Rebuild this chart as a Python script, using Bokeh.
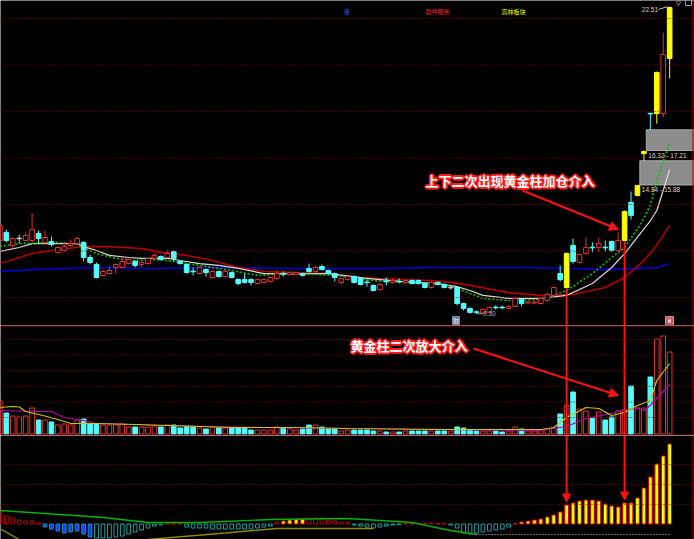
import numpy as np
from bokeh.plotting import figure
from bokeh.layouts import column
from bokeh.models import Range1d, Span, Label, Arrow, NormalHead, ColumnDataSource
from bokeh.embed import file_html
from bokeh.resources import INLINE

# ---------------- daily bars ----------------
opens = [12.45, 12.80, 12.24, 12.54, 12.45, 12.45, 12.75, 12.37, 12.41, 11.94,
         12.02, 12.24, 12.32, 12.37, 11.72, 11.42, 10.95, 11.03, 11.29, 11.29,
         11.46, 11.55, 11.42, 11.46, 11.68, 11.76, 11.72, 11.98, 11.55, 11.42,
         11.13, 11.03, 11.20, 10.86, 11.12, 10.90, 11.07, 10.77, 10.77, 10.77,
         10.60, 10.65, 10.69, 10.82, 11.03, 10.99, 10.99, 11.03, 11.25, 11.12,
         11.33, 11.16, 11.03, 10.65, 10.77, 10.90, 10.82, 10.66, 10.52, 10.34,
         10.70, 10.65, 10.70, 10.65, 10.73, 10.73, 10.60, 10.43, 10.65, 10.56,
         10.43, 10.43, 9.74, 9.53, 9.38, 9.33, 9.36, 9.58, 9.58, 9.53,
         9.61, 9.91, 9.76, 9.76, 9.74, 9.87, 10.09, 11.03, 10.43, 12.24,
         11.51, 11.89, 12.16, 12.15, 12.16, 12.41, 12.02, 12.45, 14.09, 14.39,
         16.19, 17.92, 17.91, 17.91, 20.28]
highs = [13.15, 12.92, 12.58, 12.71, 12.80, 13.61, 12.88, 12.88, 12.62, 12.19,
         12.37, 12.50, 12.62, 12.41, 11.85, 11.50, 11.20, 11.33, 11.46, 11.72,
         11.68, 11.59, 11.55, 11.72, 11.89, 11.81, 12.02, 12.02, 11.59, 11.46,
         11.29, 11.33, 11.25, 11.16, 11.16, 11.16, 11.12, 10.82, 11.03, 10.82,
         10.82, 10.82, 10.90, 11.16, 11.12, 11.12, 11.12, 11.07, 11.46, 11.38,
         11.42, 11.20, 11.07, 10.86, 10.95, 10.95, 10.86, 10.77, 10.56, 10.60,
         10.86, 10.82, 10.82, 10.77, 10.77, 10.77, 10.65, 10.69, 10.69, 10.60,
         10.52, 10.47, 9.78, 9.57, 9.44, 9.53, 9.61, 9.66, 9.64, 9.66,
         10.00, 9.96, 9.85, 9.85, 10.00, 10.21, 10.47, 11.38, 11.94, 12.54,
         11.89, 12.58, 12.37, 12.58, 12.45, 12.45, 12.80, 13.74, 14.56, 14.84,
         16.32, 17.93, 19.72, 21.39, 22.51]
lows = [12.40, 12.37, 12.15, 12.32, 12.41, 12.37, 12.32, 12.32, 12.19, 11.89,
        11.98, 12.19, 12.28, 11.55, 11.42, 10.82, 10.90, 10.99, 11.03, 11.25,
        11.42, 11.29, 11.29, 11.42, 11.63, 11.59, 11.68, 11.55, 11.42, 11.03,
        10.95, 10.99, 10.90, 10.82, 10.86, 10.86, 10.82, 10.52, 10.60, 10.52,
        10.56, 10.60, 10.65, 10.77, 10.90, 10.95, 10.95, 10.90, 11.07, 11.07,
        11.16, 10.99, 10.69, 10.56, 10.73, 10.60, 10.52, 10.47, 10.26, 10.30,
        10.52, 10.60, 10.60, 10.60, 10.56, 10.56, 10.39, 10.39, 10.52, 10.39,
        10.34, 9.66, 9.44, 9.31, 9.30, 9.31, 9.33, 9.48, 9.50, 9.50,
        9.57, 9.61, 9.72, 9.72, 9.70, 9.83, 10.05, 10.69, 10.39, 11.46,
        11.46, 11.85, 11.94, 11.94, 11.98, 11.98, 11.98, 12.41, 13.35, 14.35,
        15.88, 17.21, 17.48, 17.74, 19.42]
closes = [13.10, 12.45, 12.54, 12.54, 12.67, 12.92, 12.54, 12.58, 12.28, 12.15,
          12.19, 12.32, 12.54, 11.72, 11.51, 10.86, 11.12, 11.16, 11.42, 11.55,
          11.63, 11.38, 11.51, 11.68, 11.81, 11.63, 11.89, 11.68, 11.46, 11.07,
          11.11, 11.29, 11.07, 11.12, 10.90, 11.12, 10.86, 10.60, 10.65, 10.65,
          10.77, 10.77, 10.86, 11.03, 11.01, 11.07, 11.07, 10.95, 11.12, 11.29,
          11.20, 11.03, 10.86, 10.82, 10.90, 10.65, 10.56, 10.64, 10.30, 10.56,
          10.68, 10.73, 10.68, 10.73, 10.60, 10.60, 10.43, 10.65, 10.56, 10.43,
          10.43, 9.74, 9.53, 9.36, 9.36, 9.48, 9.57, 9.56, 9.56, 9.61,
          9.96, 9.74, 9.80, 9.80, 9.96, 10.13, 10.43, 10.77, 11.89, 11.55,
          11.85, 12.15, 12.14, 12.32, 12.14, 12.02, 12.45, 13.70, 13.53, 14.82,
          16.28, 17.90, 19.68, 20.45, 22.47]
golden_bars = [88, 97, 99, 100, 102, 104]

volumes = [33, 21, 18, 17, 18, 26, 14, 14, 12, 9,
           10, 9, 14, 15, 10, 10, 9, 9, 9, 10,
           7, 7, 7, 7, 8, 7, 9, 9, 6, 8,
           7, 6, 5, 7, 6, 6, 6, 6, 6, 4,
           4, 4, 4, 7, 6, 5, 4, 5, 9, 9,
           7, 5, 5, 3, 4, 4, 4, 4, 3, 3,
           2, 2, 2, 3, 3, 3, 3, 3, 3, 3,
           3, 7, 6, 4, 3, 3, 3, 3, 2, 3,
           7, 5, 3, 3, 4, 5, 6, 20, 29, 42,
           25, 23, 16, 22, 14, 17, 23, 24, 48, 26,
           26, 57, 95, 98, 82]

# ---------------- moving-average traces (bar index, value) ----------------
ma_white_idx = [0, 3, 5, 8, 12, 13, 15, 17, 20, 22, 26, 28, 31, 34, 37, 41, 46, 51, 57, 62,
                68, 71, 73, 75, 79, 84, 88, 92, 95, 97, 99, 101, 102, 103, 104]
ma_white_val = [11.98, 12.15, 12.32, 12.32, 12.32, 12.19, 12.02, 11.81, 11.72, 11.68,
                11.68, 11.59, 11.46, 11.38, 11.25, 11.03, 11.03, 11.03, 10.82, 10.69,
                10.60, 10.47, 10.30, 10.09, 9.96, 9.96, 10.09, 10.60, 11.29, 11.89,
                12.60, 13.30, 13.74, 14.60, 15.51]
ma_green_idx = [0, 3, 9, 12, 15, 18, 21, 25, 28, 31, 36, 40, 46, 52, 58, 63, 69, 71, 75, 79,
                84, 88, 92, 95, 97, 99, 100, 101, 102, 103, 104]
ma_green_val = [12.19, 12.32, 12.37, 12.28, 11.89, 11.68, 11.59, 11.63, 11.51, 11.38,
                11.16, 10.95, 11.03, 10.95, 10.73, 10.65, 10.56, 10.39, 9.96, 9.87,
                9.91, 10.30, 11.03, 11.72, 12.15, 12.95, 13.40, 14.00, 15.00, 15.85, 16.67]
ma_red_idx = [0, 5, 8, 13, 17, 22, 25, 29, 33, 37, 41, 46, 51, 56, 59, 67, 70, 73, 79, 84,
              89, 94, 97, 100, 102, 104]
ma_red_val = [11.46, 11.89, 12.02, 12.19, 12.19, 12.11, 11.94, 11.81, 11.59, 11.29,
              11.12, 11.07, 11.03, 10.86, 10.82, 10.73, 10.65, 10.52, 10.21, 10.09,
              10.13, 10.43, 10.86, 11.59, 12.25, 13.10]
ma_blue_idx = [0, 5, 10, 15, 23, 34, 46, 59, 67, 81, 89, 94, 99, 102, 104]
ma_blue_val = [11.12, 11.20, 11.25, 11.29, 11.25, 11.29, 11.25, 11.25, 11.29, 11.29,
               11.25, 11.20, 11.25, 11.29, 11.46]

vma_yellow_idx = [0, 2, 3, 4, 7, 9, 11, 15, 21, 26, 36, 46, 54, 68, 84, 86, 88, 91, 93, 95,
                  97, 99, 101, 102, 104]
vma_yellow_val = [26.5, 27.5, 27, 22.5, 18, 14.5, 10.5, 10.5, 9.5, 8.5, 6.5, 6.5, 5.5, 4.5,
                  4.5, 6.5, 16.5, 26.5, 25.5, 18.5, 21.5, 28.5, 33.5, 53.5, 70.5]
vma_purple_idx = [0, 5, 8, 10, 13, 15, 26, 41, 54, 84, 88, 91, 95, 97, 99, 100, 101, 104]
vma_purple_val = [23.5, 22.5, 22.5, 16.5, 13.5, 10.5, 8.5, 6.5, 5.5, 3.5, 7.5, 15.5, 20.5,
                  24.5, 25.5, 23.5, 28.5, 49.5]

# ---------------- momentum histogram ----------------
hist = [13, 8, 6, 4, 3, 3, 1, -3, -5, -7,
        -9, -8, -7, -10, -13, -14, -14, -14, -13, -12,
        -10, -8, -6, -4, -2, -1, 1, 1, 0.5, -3,
        -4, -4, -4, -5, -5, -5, -5, -5, -5, -5,
        -4, -3, -2, 2, 3, 4, 5, 5, 6, 6,
        5, 4, 3, 2, 2, -1, -2, -3, -4, -3,
        -2, -1, -0.5, 0.5, 0.5, 0.5, 0.5, 0.5, 0.5, 0.5,
        -1, -4, -9, -10, -9, -8, -7, -6, -5, -3,
        0.5, 2, 3, 4, 5, 7, 9, 12, 19, 21,
        23, 24, 24, 23, 20, 18, 17, 21, 21, 26,
        36, 47, 60, 68, 80]
hist_strong_runs = [(7, 14), (44, 47), (81, 104)]

dif_idx = [0, 7, 16, 23, 31, 42, 54, 64, 70, 74]
dif_val = [13.5, 10.5, 6.5, 1.5, 1.5, 4.5, 5.5, 1.5, -6.5, -10.5]
dea_idx = [0, 3, np.nan, 23, 35, 43, 58]
dea_val = [-4.5, -15.5, np.nan, -15.5, -9, -4.5, -4.5]
floor_idx = [74, 104]
floor_val = [-10.5, -10.5]

header_labels = ["港", "软件服务", "高林板块"]
note_price = "上下二次出现黄金柱加仓介入"
note_volume = "黄金柱二次放大介入"
price_grid = [10, 12, 14, 16, 18, 20, 22]

# ---------------- geometry ----------------
W = 694
H_MAIN, H_VOL, H_IND = 325, 110, 104
BAR_PX = 6.44
X_START = 0.093
X_END = X_START + W / BAR_PX
PRICE_TOP = 22.774
PX_PER_PRICE = 23.25
PRICE_BOTTOM = PRICE_TOP - H_MAIN / PX_PER_PRICE
VOL_TOP, VOL_BOTTOM = 108.5, -1.5
IND_TOP, IND_BOTTOM = 88.5, -15.5

RED = "#e63232"
CYAN = "#54fcfc"
YELLOW = "#ffff00"
BORDER = "#b00000"
GRID = "#8b0000"
ARROW_RED = "#ff1010"
CJK = "Noto Sans CJK SC"


def px_x(px):
    return X_START + px / BAR_PX


def main_y(py):
    return PRICE_TOP - py / PX_PER_PRICE


def vol_y(py):
    return VOL_TOP - (py - H_MAIN)


def ind_y(py):
    return IND_TOP - (py - H_MAIN - H_VOL)


xr = Range1d(X_START, X_END)


def pane(h, y0, y1):
    p = figure(width=W, height=h, x_range=xr, y_range=Range1d(y0, y1),
               output_backend="svg", toolbar_location=None,
               x_axis_location=None, y_axis_location=None, title=None,
               min_border=0, background_fill_color="black",
               border_fill_color="black")
    p.outline_line_color = None
    p.grid.visible = False
    p.add_layout(Span(location=px_x(692.5), dimension="height",
                      line_color=BORDER, line_width=1))
    return p


def glow_label(p, x, y, text):
    ring = [(-2, 0), (2, 0), (0, -2), (0, 2), (-1, -1), (-1, 1), (1, -1), (1, 1)]
    for dx, dy in ring:
        p.add_layout(Label(x=x, y=y, text=text, x_offset=dx, y_offset=dy,
                           text_color="#ff1a1a", text_font=CJK, text_font_size="13px",
                           text_font_style="bold", text_baseline="middle"))
    p.add_layout(Label(x=x, y=y, text=text, text_color="white", text_font=CJK,
                       text_font_size="13px", text_font_style="bold",
                       text_baseline="middle"))


o = np.array(opens)
hi = np.array(highs)
lo = np.array(lows)
c = np.array(closes)
idx = np.arange(len(o))
gold = np.isin(idx, golden_bars)

# ================= price pane =================
p1 = pane(H_MAIN, PRICE_BOTTOM, PRICE_TOP)
for g in price_grid:
    p1.add_layout(Span(location=g, dimension="width", line_color=GRID,
                       line_dash="1 2", line_width=1))

# unfilled gaps become grey zones running to the right edge
gap_left, gap_bottom, gap_top, gap_text = [], [], [], []
for i in range(1, len(o)):
    if lo[i] > hi[i - 1] and np.all(lo[i:] > hi[i - 1]):
        gap_left.append(i - 1 + 0.37)
        gap_bottom.append(hi[i - 1])
        gap_top.append(lo[i])
        gap_text.append(f"{hi[i - 1]:.2f} - {lo[i]:.2f}")
p1.quad(left=gap_left, right=X_END + 1, bottom=gap_bottom, top=gap_top,
        fill_color="#8c8c8c", line_color="#b0b0b0", line_width=1)
for gl, gb, gt in zip(gap_left, gap_bottom, gap_text):
    p1.add_layout(Label(x=gl, y=gb, text=gt, x_offset=2, y_offset=-5,
                        text_color="#d8d8d8", text_font="Liberation Sans",
                        text_font_size="6.5px", text_baseline="middle"))

p1.line(ma_blue_idx, ma_blue_val, line_color="#0000d2", line_width=1.6)
p1.line(ma_red_idx, ma_red_val, line_color="#b40000", line_width=1.6)
p1.line(ma_white_idx, ma_white_val, line_color="#d8d8d8", line_width=1.2)
p1.line(ma_green_idx, ma_green_val, line_color="#00c800", line_width=1.6, line_dash="2 2")

kind = np.where(gold, "gold", np.where(c > o, "up", np.where(c < o, "down", "flat")))
line_col = {"up": RED, "down": CYAN, "gold": YELLOW, "flat": "#c8c8c8"}
fill_col = {"up": "black", "down": CYAN, "gold": YELLOW, "flat": "#c8c8c8"}
top = np.maximum(o, c)
bot = np.minimum(o, c)
mid = (top + bot) / 2
thin = (top - bot) < 0.03
top = np.where(thin, mid + 0.015, top)
bot = np.where(thin, mid - 0.015, bot)
csrc = ColumnDataSource(dict(x=idx, hi=hi, lo=lo, top=top, bot=bot,
                             lc=[line_col[k] for k in kind],
                             fc=[fill_col[k] for k in kind]))
p1.segment(x0="x", y0="lo", x1="x", y1="hi", source=csrc, line_color="lc", line_width=1)
p1.vbar(x="x", top="top", bottom="bot", width=0.72, source=csrc,
        fill_color="fc", line_color="lc", line_width=1)

# extreme marks
imax = int(np.argmax(hi))
imin = int(np.argmin(lo))
p1.segment(x0=[imax - 1.75], y0=[hi[imax] - 0.12], x1=[imax - 0.35], y1=[hi[imax]],
           line_color="#c8c8c8", line_width=1)
p1.add_layout(Label(x=imax - 1.8, y=hi[imax] - 0.12, text=f"{hi[imax]:.2f}",
                    text_align="right", text_baseline="middle", text_color="#d0d0d0",
                    text_font="Liberation Sans", text_font_size="6.5px"))
p1.segment(x0=[imin], y0=[lo[imin]], x1=[imin + 1.0], y1=[lo[imin]],
           line_color="#a0a0a0", line_width=1)
p1.add_layout(Label(x=imin + 1.0, y=lo[imin], text=f"{lo[imin]:.2f}",
                    text_align="left", text_baseline="middle", text_color="#b4b4b4",
                    text_font="Liberation Sans", text_font_size="6.5px"))

# header tags
for txt, cx, col in zip(header_labels, [346, 437, 513], ["#2050ff", "#ff2020", "#ffff00"]):
    p1.add_layout(Label(x=px_x(cx), y=main_y(11), text=txt, text_align="center",
                        text_baseline="middle", text_color=col, text_font=CJK,
                        text_font_size="6px"))
p1.scatter(x=[px_x(678), px_x(688)], y=[main_y(2), main_y(2)],
           marker=["diamond", "square"], size=6, fill_color=None,
           line_color="#9a9a9a", line_width=1)

# info markers on the lower edge
p1.quad(left=[px_x(452)], right=[px_x(459)], bottom=[main_y(324)], top=[main_y(316)],
        fill_color="#5c6c90", line_color="#8090b0")
p1.add_layout(Label(x=px_x(455.5), y=main_y(320), text="财", text_align="center",
                    text_baseline="middle", text_color="white", text_font=CJK,
                    text_font_size="6px"))
p1.quad(left=[px_x(665)], right=[px_x(673)], bottom=[main_y(325)], top=[main_y(316)],
        fill_color="#c85a6a", line_color="#e08090")
p1.quad(left=[px_x(667.5)], right=[px_x(670.5)], bottom=[main_y(322)], top=[main_y(319)],
        fill_color="#f0d0d8", line_color=None)

# golden-bar markers running down the panes
p1.segment(x0=golden_bars[:1] + golden_bars[1:2], y0=[lo[88], lo[97]],
           x1=golden_bars[:1] + golden_bars[1:2], y1=[PRICE_BOTTOM, PRICE_BOTTOM],
           line_color=ARROW_RED, line_width=2)

glow_label(p1, px_x(425), main_y(180), note_price)
p1.add_layout(Arrow(x_start=px_x(522), y_start=main_y(190), x_end=px_x(618), y_end=main_y(229),
                    line_color=ARROW_RED, line_width=2,
                    end=NormalHead(size=9, fill_color=ARROW_RED, line_color=ARROW_RED)))

# ================= volume pane =================
p2 = pane(H_VOL, VOL_BOTTOM, VOL_TOP)
for k in range(1, 7):
    p2.add_layout(Span(location=16.5 + 15.6 * (k - 1), dimension="width",
                       line_color=GRID, line_dash="1 2", line_width=1))
p2.add_layout(Span(location=VOL_TOP - 0.5, dimension="width", line_color=BORDER, line_width=1))
p2.add_layout(Span(location=VOL_BOTTOM + 0.5, dimension="width", line_color=BORDER, line_width=1))

vup = c >= o
vsrc = ColumnDataSource(dict(x=idx, v=volumes,
                             lc=[RED if u else CYAN for u in vup],
                             fc=["black" if u else CYAN for u in vup]))
p2.vbar(x="x", top="v", bottom=0, width=0.72, source=vsrc,
        fill_color="fc", line_color="lc", line_width=1)
p2.line(vma_purple_idx, vma_purple_val, line_color="#b000b0", line_width=1.2)
p2.line(vma_yellow_idx, vma_yellow_val, line_color="#c8c800", line_width=1.2)
p2.segment(x0=[88, 97], y0=[VOL_TOP, VOL_TOP], x1=[88, 97], y1=[VOL_BOTTOM, VOL_BOTTOM],
           line_color=ARROW_RED, line_width=2)

glow_label(p2, px_x(350), vol_y(345), note_volume)
p2.add_layout(Arrow(x_start=px_x(473), y_start=vol_y(348), x_end=px_x(618), y_end=vol_y(395),
                    line_color=ARROW_RED, line_width=2,
                    end=NormalHead(size=9, fill_color=ARROW_RED, line_color=ARROW_RED)))

# ================= momentum pane =================
p3 = pane(H_IND, IND_BOTTOM, IND_TOP)
for g in [20, 40, 60]:
    p3.add_layout(Span(location=g - 0.5, dimension="width", line_color=GRID,
                       line_dash="1 2", line_width=1))

hv = np.array(hist, dtype=float)
strong = np.zeros(len(hv), dtype=bool)
for a, b in hist_strong_runs:
    strong[a:b + 1] = True
h_fill, h_line = [], []
for val, s in zip(hv, strong):
    if val > 0 and s:
        h_fill.append(YELLOW); h_line.append("#d00000")
    elif val > 0:
        h_fill.append("black"); h_line.append("#c00000")
    elif s:
        h_fill.append("#1e3cff"); h_line.append("#1090b0")
    else:
        h_fill.append("black"); h_line.append("#1ea0a0")
hsrc = ColumnDataSource(dict(x=idx, h=hv, fc=h_fill, lc=h_line))
p3.vbar(x="x", top="h", bottom=0, width=0.58, source=hsrc,
        fill_color="fc", line_color="lc", line_width=1)
p3.line(dif_idx, dif_val, line_color="#00b400", line_width=1.4)
p3.line(dea_idx, dea_val, line_color="#8c8c00", line_width=1.4)
p3.line(floor_idx, floor_val, line_color="#c8c8c8", line_width=1, line_dash="1 2")

for gb in golden_bars[:2]:
    p3.add_layout(Arrow(x_start=gb, y_start=IND_TOP, x_end=gb, y_end=hv[gb] + 3,
                        line_color=ARROW_RED, line_width=2,
                        end=NormalHead(size=8, fill_color=ARROW_RED, line_color=ARROW_RED)))

layout = column(p1, p2, p3, spacing=0)
open("out.html", "w").write(file_html(layout, INLINE))
